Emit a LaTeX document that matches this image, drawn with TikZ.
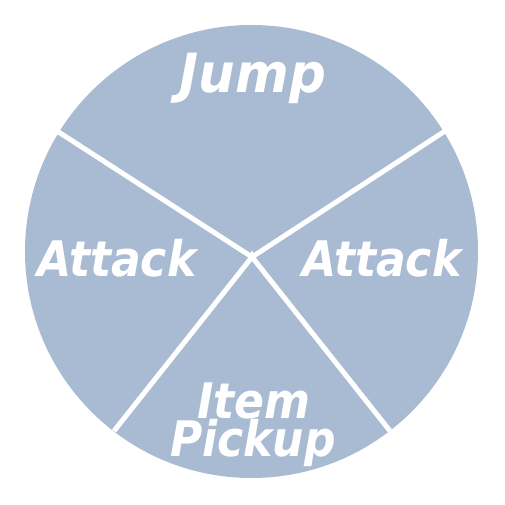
\documentclass[tikz,border=0pt]{standalone}
\usepackage{fontspec}
\setmainfont{DejaVu Sans Condensed}
\definecolor{pie}{HTML}{A9BBD2}
\begin{document}
\begin{tikzpicture}[x=1pt,y=-1pt,
  sep/.style={draw=white,line width=5pt},
  lbl/.style={text=white,font=\fontsize{49}{38}\selectfont\bfseries\slshape,anchor=base,inner sep=0pt}]
\useasboundingbox (0,0) rectangle (505,505);
\fill[white] (0,0) rectangle (505,505);
\fill[pie] (251.5,251.5) circle (226.5);
\coordinate (c) at (252,257);
\coordinate (ul) at (57,131);
\coordinate (ur) at (445,131);
\coordinate (ll) at (114,431);
\coordinate (lr) at (390,431);
\draw[sep] (c) -- (ul);
\draw[sep] (c) -- (ur);
\draw[sep] (c) -- (ll);
\draw[sep] (c) -- (lr);
\fill[white] (252,250.5) -- (256,257) -- (248,257) -- cycle;
\node[lbl,font=\fontsize{54}{40}\selectfont\bfseries\slshape,xscale=1.06] (jump) at (253,93) {Jump};
\node[lbl] (attl) at (117,276) {Attack};
\node[lbl] (attr) at (382,276) {Attack};
\node[lbl] (item) at (254,418) {Item};
\node[lbl] (pick) at (253,456) {Pickup};
\end{tikzpicture}
\end{document}
